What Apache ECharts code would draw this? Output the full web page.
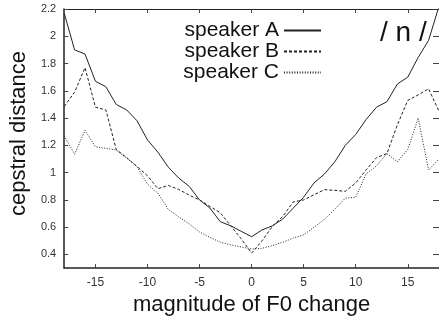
<!DOCTYPE html>
<html><head><meta charset="utf-8">
<script src="https://cdn.jsdelivr.net/npm/echarts@6/dist/echarts.min.js"></script>
<style>html,body{margin:0;padding:0;background:#fff}#c{width:439px;height:321px}</style>
</head><body><div id="c"></div>
<script>
const xValues = [-18,-17,-16,-15,-14,-13,-12,-11,-10,-9,-8,-7,-6,-5,-4,-3,-2,-1,0,1,2,3,4,5,6,7,8,9,10,11,12,13,14,15,16,17,18];
const speakerA = [2.17,1.90,1.87,1.67,1.63,1.50,1.46,1.38,1.24,1.15,1.04,0.96,0.90,0.80,0.74,0.64,0.61,0.57,0.53,0.58,0.61,0.66,0.74,0.82,0.925,0.99,1.08,1.20,1.28,1.39,1.48,1.52,1.65,1.70,1.845,1.97,2.22];
const speakerB = [1.485,1.59,1.77,1.48,1.46,1.17,1.11,1.045,0.977,0.882,0.906,0.877,0.835,0.80,0.752,0.705,0.61,0.515,0.41,0.50,0.606,0.68,0.785,0.80,0.838,0.875,0.87,0.863,0.925,1.02,1.11,1.14,1.35,1.53,1.57,1.615,1.45];
const speakerC = [1.27,1.135,1.31,1.19,1.178,1.165,1.107,1.043,0.915,0.85,0.73,0.675,0.625,0.565,0.525,0.49,0.47,0.455,0.44,0.445,0.465,0.49,0.52,0.544,0.60,0.657,0.733,0.813,0.82,0.99,1.05,1.14,1.08,1.17,1.40,1.02,1.10];
const xTicks = [-15,-10,-5,0,5,10,15];
const yTicks = [0.4,0.6,0.8,1,1.2,1.4,1.6,1.8,2,2.2];
const seriesNames = ['speaker A','speaker B','speaker C'];
const xName = 'magnitude of F0 change';
const yName = 'cepstral distance';
const label = '/ n /';

const pair = arr => xValues.map((x,i)=>[x,arr[i]]);
const font = 'Liberation Sans, Arial, sans-serif';
const ink = '#111';
const chart = echarts.init(document.getElementById('c'), null, {renderer:'canvas'});
const styles = [
  {type:'solid'},
  {type:[3,2]},
  {type:[1,1.6]}
];
chart.setOption({
  animation:false,
  title:{text:label, left:380, top:19, padding:0,
    textStyle:{fontFamily:font, fontSize:28, fontWeight:'normal', color:ink}},
  legend:{
    orient:'vertical', right:117, top:20, padding:0, itemGap:0,
    align:'right', itemWidth:37, itemHeight:14,
    itemStyle:{opacity:0},
    textStyle:{fontFamily:font, fontSize:21, color:ink},
    data:seriesNames
  },
  grid:{left:61, top:9, right:-4, bottom:44, containLabel:false},
  xAxis:[{
    type:'value', min:-18, max:18, position:'bottom',
    name:xName, nameLocation:'middle', nameGap:13,
    nameTextStyle:{fontFamily:font, fontSize:22, color:ink},
    axisLine:{show:true, onZero:false, lineStyle:{color:'#222', width:1.5}},
    axisTick:{show:true, inside:true, length:4, customValues:xTicks, lineStyle:{color:'#444'}},
    axisLabel:{customValues:xTicks, margin:9, fontFamily:font, fontSize:12, color:'#333'},
    splitLine:{show:false}
  },{
    type:'value', min:-18, max:18, position:'top',
    axisLine:{show:true, onZero:false, lineStyle:{color:'#222', width:1}},
    axisTick:{show:true, inside:true, length:4, customValues:xTicks, lineStyle:{color:'#444'}},
    axisLabel:{show:false}, splitLine:{show:false}
  }],
  yAxis:[{
    type:'value', min:0.3, max:2.2, position:'left',
    name:yName, nameLocation:'middle', nameGap:23, nameRotate:90,
    nameTextStyle:{fontFamily:font, fontSize:22, color:ink, padding:[0,0,0,10]},
    axisLine:{show:true, onZero:false, lineStyle:{color:'#222', width:1.5}},
    axisTick:{show:true, inside:true, length:4, customValues:yTicks, lineStyle:{color:'#444'}},
    axisLabel:{customValues:yTicks, margin:8, fontFamily:font, fontSize:11, color:'#333'},
    splitLine:{show:false}
  },{
    type:'value', min:0.3, max:2.2, position:'right',
    axisLine:{show:true, onZero:false, lineStyle:{color:'#222', width:1}},
    axisTick:{show:true, inside:true, length:6, customValues:yTicks, lineStyle:{color:'#444'}},
    axisLabel:{show:false}, splitLine:{show:false}
  }],
  series:[speakerA,speakerB,speakerC].map((d,i)=>({
    name:seriesNames[i], type:'line', data:pair(d),
    symbol:'none', clip:true, color:'#222',
    lineStyle:Object.assign({color:'#222', width:1}, styles[i])
  }))
});
</script></body></html>
